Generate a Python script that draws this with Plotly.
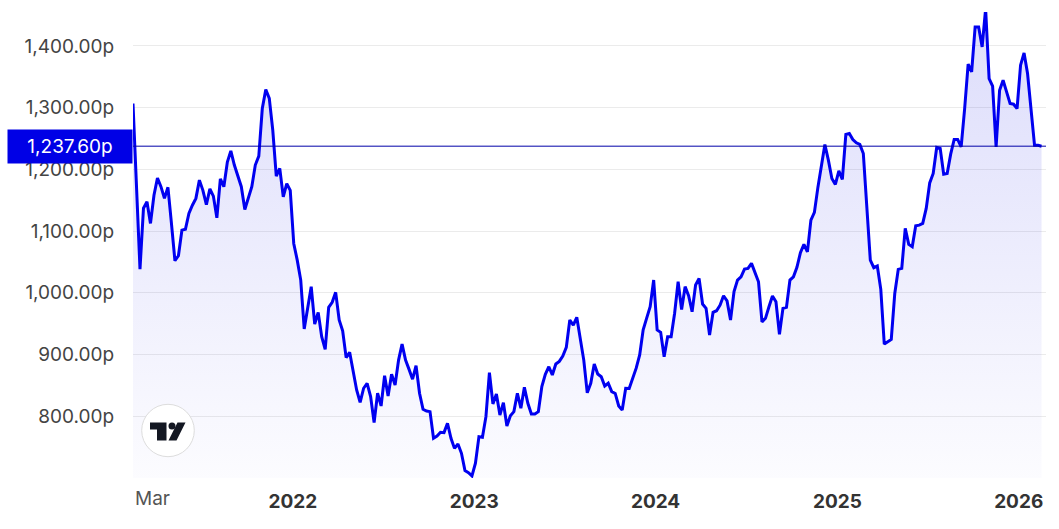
import pandas as pd
import plotly.graph_objects as go

# Weekly closing prices (pence)
start_date = "2021-02-13"
end_date = "2026-02-16"
prices = [
    1306.7, 1170, 1038.5, 1137, 1147.5, 1112.5, 1158, 1186, 1172, 1153,
    1171, 1112.5, 1052, 1060, 1101.6, 1103, 1128.6, 1142, 1153, 1182.6,
    1166, 1143, 1168.5, 1156.7, 1121.6, 1184.7, 1172, 1212, 1230, 1207,
    1188, 1172, 1135, 1153, 1172, 1207, 1221.5, 1298.6, 1329.4, 1315,
    1263.5, 1189, 1201.6, 1155.5,
    1177, 1166, 1080, 1053, 1020.7, 941.4, 977.5, 1010, 949.5, 968.4,
    929, 908.5, 976.5, 984.6, 1000.8, 956, 938.6, 895, 903.6, 875,
    842.6, 822.7, 845.4, 853.5, 831.8, 789.7, 837.3, 816.7, 865.8, 832.9,
    868, 850.7, 891, 917, 891, 876, 860, 882, 837.3, 811.4,
    808.6, 807.5, 764.4,
    768, 774, 773.5, 788.7, 764.4, 748, 755, 740, 712, 708.7,
    703.4, 724, 767, 766, 799.4, 870.6, 820, 836, 802, 822,
    784.3, 801, 807.5, 837.3, 813, 847, 821, 803.8, 803.8, 807.5,
    848, 868, 880.3, 867, 884.7, 889, 897.7, 911.7, 956, 947.8,
    960.3, 929, 891, 838,
    853.5, 884.7, 868.5, 864, 849, 853.5, 840, 837, 816.7, 810,
    845.4, 845, 861.6, 878, 899.3, 940, 959, 977.5, 1020.7, 940,
    936, 896.5, 929, 929, 967, 1018, 973, 1010, 995.3, 969.4,
    1012.6, 1023.4, 981.8, 974.9, 931.6, 968.4, 971, 980, 995.3, 987,
    956, 1002, 1020.7, 1026,
    1038.5, 1039.6, 1047.7, 1034, 1018, 953, 958.7, 977.5, 994.8, 985.6,
    932.8, 974.9, 976.5, 1020.7, 1026, 1041.3, 1065, 1078.5, 1066.5, 1117.8,
    1130.3, 1170.8, 1204, 1240.4, 1215, 1185.3, 1175.6, 1197.6, 1183.7, 1256.6,
    1258.2, 1248.5, 1243, 1240.4, 1225.8, 1134, 1053, 1040.7, 1043.4, 1005.6,
    917, 920.8, 924.6, 999, 1038, 1039.6, 1104.4, 1078.5, 1074.6, 1108.6,
    1109.7, 1112.5, 1136.8, 1178, 1193.4, 1235.5, 1234, 1192.3, 1193.4, 1224.7,
    1248.5, 1248.5, 1236.6, 1298.6, 1370.4, 1358, 1430.8, 1430.8, 1398.4, 1460,
    1347.2, 1334.8, 1236.6, 1328.3, 1344.5, 1325.5, 1306.8, 1305.6, 1298.6, 1368.8,
    1388.7, 1355.3, 1301.3, 1239, 1239, 1237.6,
]
last_price = 1237.60

y_ticks = [800, 900, 1000, 1100, 1200, 1300, 1400]
x_tick_dates = ["2022-01-01", "2023-01-01", "2024-01-01", "2025-01-01", "2026-01-01"]
x_tick_labels = ["2022", "2023", "2024", "2025", "2026"]
first_label = "Mar"

dates = pd.date_range(start_date, end_date, periods=len(prices))

BLUE = "#0000f0"
FONT = "Inter, Lato, sans-serif"

fig = go.Figure()
fig.add_trace(go.Scatter(
    x=dates, y=prices, mode="lines",
    line=dict(color=BLUE, width=3),
    fill="tozeroy",
    fillgradient=dict(
        type="vertical",
        start=700, stop=1455,
        colorscale=[[0, "rgba(40,40,230,0.015)"], [1, "rgba(40,40,230,0.16)"]],
    ),
    hoverinfo="skip",
))

# current price line
fig.add_shape(type="line", xref="paper", x0=0, x1=1, yref="y", y0=last_price, y1=last_price,
              line=dict(color="#0000a8", width=1), layer="above")

# current price label
fig.add_annotation(
    xref="paper", x=0, xanchor="right", yref="y", y=last_price, yanchor="middle",
    text=f"{last_price:,.2f}p", showarrow=False,
    font=dict(family=FONT, size=19, color="white"),
    bgcolor="#0000e6", width=114, height=23, borderpad=5, align="center",
)

# first (month) label at left edge
fig.add_annotation(
    xref="x", x=dates[0], xanchor="left", yref="paper", y=0, yanchor="middle",
    yshift=-20, text=first_label, showarrow=False,
    font=dict(family=FONT, size=19, color="#555555"),
)

# TradingView badge (pixel offsets from the plot's bottom-left corner)
LOGO = "#131722"
badge = dict(xref="paper", yref="paper", xsizemode="pixel", ysizemode="pixel",
             xanchor=0, yanchor=0, layer="above")
fig.add_shape(type="circle", x0=8.7, x1=61.3, y0=21.3, y1=73.7,
              line=dict(color="#dddddd", width=1), fillcolor="white", **badge)
fig.add_shape(type="path",
              path="M17,55.5 L33.5,55.5 L33.5,37.5 L24,37.5 L24,48.5 L17,48.5 Z",
              fillcolor=LOGO, line=dict(width=0), **badge)
fig.add_shape(type="circle", x0=35.5, x1=42.5, y0=48.5, y1=55.5,
              fillcolor=LOGO, line=dict(width=0), **badge)
fig.add_shape(type="path",
              path="M35.5,37.5 L43.5,37.5 L52.5,55.5 L44.5,55.5 Z",
              fillcolor=LOGO, line=dict(width=0), **badge)

fig.update_layout(
    width=1059, height=529,
    margin=dict(l=133, r=13, t=12, b=51, autoexpand=False),
    paper_bgcolor="white", plot_bgcolor="white",
    showlegend=False, hovermode=False,
    font=dict(family=FONT),
    xaxis=dict(
        type="date", range=[dates[0], "2026-02-25"],
        tickvals=x_tick_dates,
        ticktext=[f"<b>{t}</b>" for t in x_tick_labels],
        tickfont=dict(family=FONT, size=19, color="#333333"),
        ticks="outside", ticklen=6, tickcolor="rgba(0,0,0,0)",
        showgrid=False, zeroline=False, showline=False, automargin=False,
    ),
    yaxis=dict(
        range=[700, 1455],
        tickvals=y_ticks, ticktext=[f"{v:,.2f}p" for v in y_ticks],
        tickfont=dict(family=FONT, size=19, color="#444444"),
        ticks="outside", ticklen=14, tickcolor="rgba(0,0,0,0)",
        showgrid=True, gridcolor="#ebebeb", gridwidth=1,
        zeroline=False, showline=False, automargin=False,
    ),
)

fig.write_html(
    "out.html",
    config={"displayModeBar": False, "staticPlot": True},
    post_script="document.body.style.margin='0';document.body.style.overflow='hidden';",
)
